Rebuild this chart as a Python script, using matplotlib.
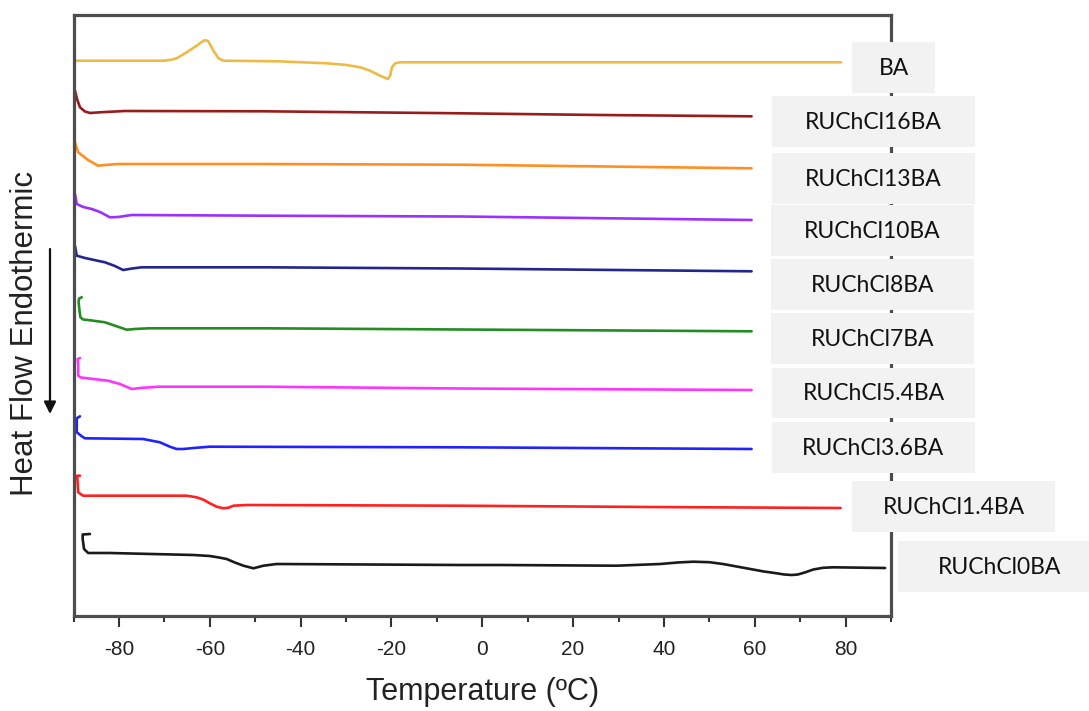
import matplotlib
matplotlib.use("Agg")
import matplotlib.pyplot as plt
from matplotlib.patches import Rectangle
from matplotlib.ticker import MultipleLocator
from matplotlib import font_manager

plt.rcParams["axes.unicode_minus"] = False

# ---------------- data ----------------
labels = ["BA", "RUChCl16BA", "RUChCl13BA", "RUChCl10BA", "RUChCl8BA",
          "RUChCl7BA", "RUChCl5.4BA", "RUChCl3.6BA", "RUChCl1.4BA", "RUChCl0BA"]

t_BA = [-90, -70, -68.5, -67.3, -65.1, -62.9, -61.4, -61.0, -60.6, -60.3,
        -59.2, -58.1, -57.0, -45, -34.2, -29.9, -26.9, -24.7, -22.5, -20.8,
        -20.3, -19.9, -19.2, -18.1, 0, 40, 79]
hf_BA = [555.3, 555.3, 556.3, 557.7, 563.7, 570.3, 575.3, 575.7, 575.3, 574.3,
         565.3, 557.7, 555.3, 554.7, 552.7, 551, 548.7, 545.3, 540.3, 537,
         540.3, 548.7, 552.7, 553.7, 553.7, 553.7, 553.7]

t_16 = [-89.7, -89.25, -88.6, -87.5, -86.4, -84.2, -78.7, -48, -4.9, 26, 59.3]
hf_16 = [525.3, 517, 508.7, 504.5, 503, 503.7, 505, 504.7, 502.7, 501, 499.7]

t_13 = [-89.7, -89.0, -86.8, -84.6, -83.1, -80.2, -47.9, -4.9, 59.3]
hf_13 = [473.7, 463.7, 456, 450.3, 451, 452, 452, 451.3, 447.7]

t_10 = [-89.7, -89.3, -87.9, -86.0, -84.2, -82.0, -80.2, -77.2, -47.9, -4.9, 59.3]
hf_10 = [422, 412, 409, 407, 404, 398.7, 399, 401, 400.3, 399.5, 396]

t_8 = [-89.7, -89.3, -87.5, -83.1, -80.9, -79.1, -77.1, -75.0, -47.9, -4.9, 59.3]
hf_8 = [370.3, 360.3, 358, 353.7, 350, 346, 347.5, 348.7, 348.7, 347.5, 344.7]

t_7 = [-88.2, -88.8, -88.9, -88.7, -88.5, -87.9, -86.8, -83.1, -80.7, -78.3, -76.5,
       -73.5, -47.9, -4.9, 59.3]
hf_7 = [318.7, 317.5, 314, 305, 298.7, 296.5, 296, 293.7, 290, 286.3, 287,
        287.7, 287.7, 286.5, 284.7]

t_54 = [-88.6, -89.1, -89.0, -89.0, -88.4, -87.5, -82.4, -79.8, -77.2, -75.4, -71.3,
        -47.9, -4.9, 59.3]
hf_54 = [258, 257, 251, 240.3, 238.5, 238, 235.3, 232, 227, 228, 229.3,
         229.3, 227.5, 226]

t_36 = [-88.6, -89.3, -89.3, -88.2, -87.5, -74.7, -71.0, -68.8, -67.3, -65.8,
        -63.6, -60.0, -4.9, 59.3]
hf_36 = [199.7, 197.7, 183.7, 179.7, 177.7, 177, 173.7, 169.3, 167, 167,
         168, 169.3, 168.7, 167]

t_14 = [-88.6, -89.2, -89.0, -87.9, -65.1, -62.9, -61.4, -60.0, -58.5, -57.0,
        -55.9, -54.8, -51.9, -4.9, 37, 78.9]
hf_14 = [140.3, 140.3, 123.7, 120.3, 120.3, 118.7, 116.3, 112.7, 109.3, 107.7,
         108.3, 110.3, 111, 110.3, 109, 108]

t_0 = [-86.4, -88.0, -88.0, -87.7, -86.8, -82.0, -63.6, -60, -58, -56.3,
       -54.5, -52.6, -50.4, -48.2, -45.3, -4.9, 3.9, 29.6, 39.2, 43,
       46.5, 50, 53, 56, 59, 62, 64.4, 66.5, 68.1, 69.5,
       71, 72.9, 75, 77.3, 88.7]
hf_0 = [82, 81.5, 77, 67, 63, 63, 61, 60, 58.5, 57,
        53.5, 50.3, 47.7, 50.3, 52, 51, 51, 50.3, 52, 53.5,
        54.3, 53.8, 52, 49.5, 47, 44.5, 43, 41.5, 41, 41.5,
        43.5, 46.5, 48.2, 48.7, 48]

xticks = [-80, -60, -40, -20, 0, 20, 40, 60, 80]

# ---------------- styles / layout ----------------
series = [(t_BA, hf_BA), (t_16, hf_16), (t_13, hf_13), (t_10, hf_10), (t_8, hf_8),
          (t_7, hf_7), (t_54, hf_54), (t_36, hf_36), (t_14, hf_14), (t_0, hf_0)]
colors = ["#EDBB45", "#991C1C", "#FF8F22", "#9B30FF", "#25258E",
          "#238C23", "#FF33FF", "#2222FF", "#FF2020", "#1A1A1A"]
# label boxes in pixel coords: x0, x1, y0, y1 (from top)
boxes = [(852, 935, 42, 93), (772, 975, 96, 147), (772, 975, 153, 204),
         (771, 974, 205, 256), (771, 974, 259, 310), (771, 974, 313, 364),
         (772, 975, 368, 418), (772, 975, 422, 473), (852, 1055, 481, 532),
         (898, 1101, 541, 592)]

names = {f.name for f in font_manager.fontManager.ttflist}
sans = "Liberation Sans" if "Liberation Sans" in names else "DejaVu Sans"
boxfont = "Lato" if "Lato" in names else "DejaVu Sans"

W, H = 1089, 711
fig = plt.figure(figsize=(W / 100, H / 100), dpi=100)
ax = fig.add_axes([73.6 / W, 1 - 616 / H, (891 - 73.6) / W, (616 - 15) / H])

for (t, hf), c in zip(series, colors):
    ax.plot(t, hf, color=c, lw=1.9, solid_capstyle="round", solid_joinstyle="round")

ax.set_xlim(-90, 90)
ax.set_ylim(0, 601)
ax.set_xticks(xticks)
ax.xaxis.set_minor_locator(MultipleLocator(10))
ax.set_yticks([])
ax.tick_params(axis="x", which="major", direction="out", length=8, width=1.5,
               color="#333333", pad=9, labelsize=15)
ax.tick_params(axis="x", which="minor", direction="out", length=4.5, width=1.5,
               color="#333333")
for lab in ax.get_xticklabels():
    lab.set_fontfamily(sans)
    lab.set_color("#222222")
for s in ax.spines.values():
    s.set_linewidth(2.3)
    s.set_color("#4d4d4d")

fig.text(483 / W, 1 - 692 / H, "Temperature (\u00baC)", ha="center", va="center",
         fontsize=22, family=sans, color="#222222")
fig.text(25 / W, 1 - 333 / H, "Heat Flow Endothermic", ha="center", va="center",
         rotation=90, fontsize=22.5, family=sans, color="#222222")
ax.annotate("", xy=(50 / W, 1 - 414 / H), xytext=(50 / W, 1 - 249 / H),
            xycoords="figure fraction", textcoords="figure fraction",
            arrowprops=dict(arrowstyle="-|>", color="#111111", lw=1.6,
                            mutation_scale=18, shrinkA=0, shrinkB=0),
            annotation_clip=False)

for lab, (x0, x1, y0, y1) in zip(labels, boxes):
    fig.patches.append(Rectangle((x0 / W, 1 - y1 / H), (x1 - x0) / W, (y1 - y0) / H,
                                 transform=fig.transFigure, facecolor="#F2F2F2",
                                 edgecolor="none", zorder=5))
    fig.text((x0 + x1) / 2 / W, 1 - ((y0 + y1) / 2 + 1) / H, lab, ha="center",
             va="center", fontsize=16.5, family=boxfont, color="#111111", zorder=6)

fig.savefig("out.png", dpi=100)
